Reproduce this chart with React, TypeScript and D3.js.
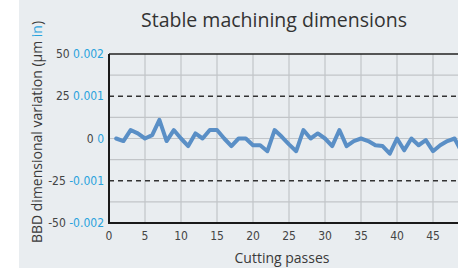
import { useEffect, useRef } from "react"
import * as d3 from "d3"

// values
const passes = [1, 2, 3, 4, 5, 6, 7, 8, 9, 10, 11, 12, 13, 14, 15, 16, 17, 18, 19, 20, 21, 22, 23, 24, 25,
  26, 27, 28, 29, 30, 31, 32, 33, 34, 35, 36, 37, 38, 39, 40, 41, 42, 43, 44, 45, 46, 47, 48, 49]
const variation = [0, -1.5, 5, 3, 0, 2, 11, -1.5, 5, 0, -4.5, 3, 0, 5, 5, 0, -4.5, 0, 0, -4, -4, -7.5, 5, 1, -3.5,
  -7.5, 5, 0, 3, 0, -4.5, 5, -4.5, -1.5, 0, -1.5, -4, -4.5, -9, 0, -7, 0, -4, -1, -7.5, -4, -1.5, 0, -8]
const xTicks = [0, 5, 10, 15, 20, 25, 30, 35, 40, 45]
const xGrid = [5, 10, 15, 20, 25, 30, 35, 40, 45, 50]
const yTicksUm = [50, 25, 0, -25, -50]
const yTicksIn = ["0.002", "0.001", "0", "-0.001", "-0.002"]
const gridY = [37.5, 12.5, 0, -12.5, -37.5]
const dashedY = [25, -25]

const W = 458
const H = 268
const M = { top: 54, left: 109, bottom: 45 }
const BG = "#e9edf0"
const BLUE = "#29a3dd"
const COND = "'DejaVu Sans Condensed', 'DejaVu Sans', sans-serif"

export default function App() {
  const svgRef = useRef<SVGSVGElement>(null)

  useEffect(() => {
    if (!svgRef.current) return
    const svg = d3.select(svgRef.current)
    svg.selectAll("*").remove()

    const x = d3.scaleLinear().domain([0, 50]).range([M.left, M.left + 360])
    const y = d3.scaleLinear().domain([-50, 50]).range([H - M.bottom, M.top])
    const x0 = x(0), x1 = x(50), y0 = y(-50), y1 = y(50)

    svg.append("rect").attr("x", 0).attr("y", 0).attr("width", W).attr("height", H).attr("fill", "#ffffff")
    svg.append("rect").attr("x", 19).attr("y", 0).attr("width", W - 19).attr("height", H).attr("fill", BG)

    // grid
    const g = svg.append("g")
    g.selectAll("line.vx")
      .data(xGrid)
      .join("line")
      .attr("x1", (d) => x(d)).attr("x2", (d) => x(d))
      .attr("y1", y1).attr("y2", y0)
      .attr("stroke", "#c2c5c8").attr("stroke-width", 1.2)
    g.selectAll("line.hy")
      .data(gridY)
      .join("line")
      .attr("x1", x0).attr("x2", x1)
      .attr("y1", (d) => y(d)).attr("y2", (d) => y(d))
      .attr("stroke", "#c2c5c8").attr("stroke-width", 1.2)
    svg.append("g").selectAll("line")
      .data(dashedY)
      .join("line")
      .attr("x1", x0).attr("x2", x1)
      .attr("y1", (d) => y(d)).attr("y2", (d) => y(d))
      .attr("stroke", "#333").attr("stroke-width", 1.5).attr("stroke-dasharray", "5,4")

    // frame
    svg.append("line").attr("x1", x0).attr("x2", x1).attr("y1", y1).attr("y2", y1).attr("stroke", "#222").attr("stroke-width", 1.5)
    svg.append("path")
      .attr("d", `M${x0},${y1}V${y0}H${x1}`)
      .attr("fill", "none").attr("stroke", "#1a1a1a").attr("stroke-width", 2)

    // series
    const line = d3.line<number>()
      .x((_, i) => x(passes[i]))
      .y((d) => y(d))
    svg.append("path")
      .datum(variation)
      .attr("fill", "none")
      .attr("stroke", "#5a8fc6")
      .attr("stroke-width", 4)
      .attr("stroke-linejoin", "round")
      .attr("stroke-linecap", "round")
      .attr("d", line)

    // x tick labels
    svg.append("g").selectAll("text")
      .data(xTicks)
      .join("text")
      .attr("x", (d) => x(d))
      .attr("y", y0 + 17)
      .attr("text-anchor", "middle")
      .attr("font-family", COND)
      .attr("font-size", "12px")
      .attr("fill", "#444")
      .text((d) => String(d))

    // y tick labels: µm in grey, inch in blue
    const yl = svg.append("g").selectAll("text")
      .data(yTicksUm)
      .join("text")
      .attr("x", x0 - 5)
      .attr("y", (d) => y(d) + 4)
      .attr("text-anchor", "end")
      .attr("font-family", COND)
      .attr("font-size", "12px")
    yl.append("tspan").attr("fill", "#444").text((d) => `${d} `)
    yl.append("tspan").attr("fill", BLUE).text((_, i) => yTicksIn[i])

    // titles
    svg.append("text")
      .attr("x", 274).attr("y", 27)
      .attr("text-anchor", "middle")
      .attr("font-family", "'Open Sans', sans-serif")
      .attr("font-size", "19.5px")
      .attr("fill", "#333")
      .text("Stable machining dimensions")

    svg.append("text")
      .attr("x", 282).attr("y", 263)
      .attr("text-anchor", "middle")
      .attr("font-family", "'Open Sans', sans-serif")
      .attr("font-size", "14px")
      .attr("fill", "#3a3a3a")
      .text("Cutting passes")

    const yt = svg.append("text")
      .attr("transform", `translate(42,${132}) rotate(-90)`)
      .attr("text-anchor", "middle")
      .attr("font-family", "'Open Sans', sans-serif")
      .attr("font-size", "14px")
      .attr("fill", "#3a3a3a")
    yt.append("tspan").text("BBD dimensional variation (µm ")
    yt.append("tspan").attr("fill", BLUE).text("in")
    yt.append("tspan").text(")")
  }, [])

  return (
    <svg
      ref={svgRef}
      width={W}
      height={H}
      style={{ position: "absolute", left: 0, top: 0, display: "block" }}
    />
  )
}
